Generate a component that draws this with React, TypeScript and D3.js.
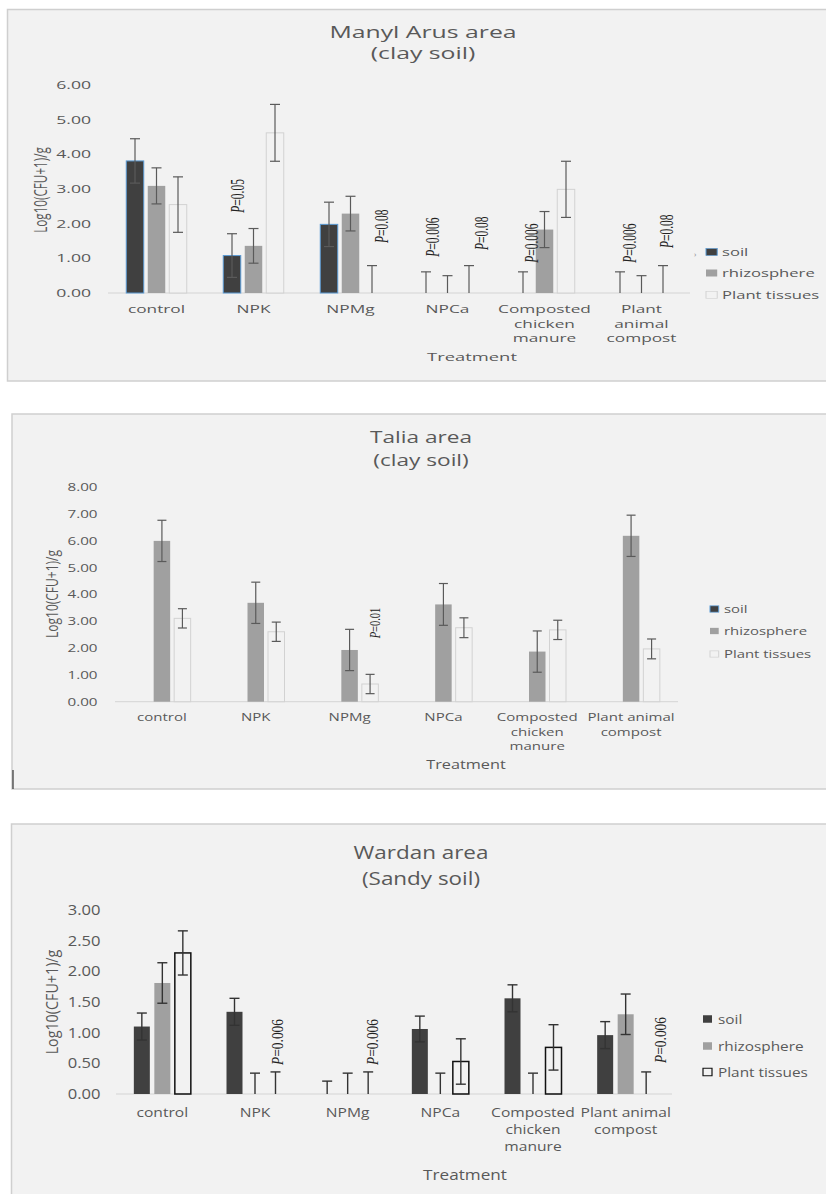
import React from "react";
import * as d3 from "d3";

// ---------- data ----------
const series = ["soil", "rhizosphere", "Plant tissues"];
const categories = ["control", "NPK", "NPMg", "NPCa", "Composted chicken manure", "Plant animal compost"];
const catLabels1 = [["control"], ["NPK"], ["NPMg"], ["NPCa"], ["Composted", "chicken", "manure"], ["Plant", "animal", "compost"]];
const catLabels23 = [["control"], ["NPK"], ["NPMg"], ["NPCa"], ["Composted", "chicken", "manure"], ["Plant animal", "compost"]];

// Panel 1: Manyl Arus area (clay soil)
const soil1 = [3.81, 1.08, 1.98, 0, 0, 0];
const soilErr1 = [0.64, 0.63, 0.64, 0.61, 0.61, 0.61];
const rhizo1 = [3.09, 1.36, 2.29, 0, 1.83, 0];
const rhizoErr1 = [0.52, 0.5, 0.5, 0.5, 0.52, 0.5];
const plant1 = [2.55, 4.62, 0, 0, 2.99, 0];
const plantErr1 = [0.8, 0.82, 0.79, 0.79, 0.81, 0.79];
const ticks1 = [0, 1, 2, 3, 4, 5, 6];
const notes1 = [
  { cat: "NPK", s: "soil", p: "0.05" },
  { cat: "NPMg", s: "Plant tissues", p: "0.08" },
  { cat: "NPCa", s: "soil", p: "0.006" },
  { cat: "NPCa", s: "Plant tissues", p: "0.08" },
  { cat: "Composted chicken manure", s: "soil", p: "0.006" },
  { cat: "Plant animal compost", s: "soil", p: "0.006" },
  { cat: "Plant animal compost", s: "Plant tissues", p: "0.08" },
];

// Panel 2: Talia area (clay soil)
const soil2 = [0, 0, 0, 0, 0, 0];
const soilErr2 = [0, 0, 0, 0, 0, 0];
const rhizo2 = [6.0, 3.69, 1.93, 3.63, 1.87, 6.19];
const rhizoErr2 = [0.77, 0.77, 0.77, 0.78, 0.77, 0.77];
const plant2 = [3.11, 2.61, 0.66, 2.76, 2.68, 1.97];
const plantErr2 = [0.36, 0.36, 0.36, 0.37, 0.36, 0.37];
const ticks2 = [0, 1, 2, 3, 4, 5, 6, 7, 8];
const notes2 = [{ cat: "NPMg", s: "Plant tissues", p: "0.01" }];

// Panel 3: Wardan area (Sandy soil)
const soil3 = [1.1, 1.34, 0, 1.06, 1.56, 0.96];
const soilErr3 = [0.22, 0.22, 0.21, 0.21, 0.22, 0.22];
const rhizo3 = [1.81, 0, 0, 0, 0, 1.3];
const rhizoErr3 = [0.33, 0.34, 0.34, 0.34, 0.34, 0.33];
const plant3 = [2.3, 0, 0, 0.53, 0.76, 0];
const plantErr3 = [0.36, 0.36, 0.36, 0.37, 0.37, 0.36];
const ticks3 = [0, 0.5, 1, 1.5, 2, 2.5, 3];
const notes3 = [
  { cat: "NPK", s: "Plant tissues", p: "0.006" },
  { cat: "NPMg", s: "Plant tissues", p: "0.006" },
  { cat: "Plant animal compost", s: "Plant tissues", p: "0.006" },
];

// ---------- layout ----------
const FONT = "'Open Sans', sans-serif";
const SERIF = "'Liberation Serif', serif";
const TXT = "#595959";

const panels = [
  {
    title: ["Manyl Arus area", "(clay soil)"],
    values: [soil1, rhizo1, plant1], errs: [soilErr1, rhizoErr1, plantErr1],
    ticks: ticks1, labels: catLabels1, notes: notes1,
    noteLayout: [[6, 21], [10, 22.5], [7, 15], [13, 15.5], [9, 9], [10, 9], [4, 17.5]],
    rect: [7.5, 9.5, 381], sx: 1.6,
    x0: 108, x1: 690, y0: 293, yTop: 85, step: 21.5, barW: 17.5, cap: 5,
    tickRight: 91, tickFs: 11, titleFs: 15.5, titleX: 423, titleY: [37.7, 58.5],
    catFs: 10.8, catDy: 20, catLh: 14.5, treatX: 472, treatY: 361, treatFs: 11.5,
    yTitleX: 40, yTitleY: 190, yTitleFs: 11.7,
    legX: 706, legTextX: 722, legY: [252, 273, 295], legFs: 10.4, legSq: 7,
    noteFs: 11.5,
    styles: [
      { fill: "#404040", stroke: "#5b9bd5", sw: 1 },
      { fill: "#a0a0a0", stroke: "none", sw: 0 },
      { fill: "#f2f2f2", stroke: "#d2d2d2", sw: 1 },
    ],
    errColor: "#5a5a5a", errW: 1.2,
  },
  {
    title: ["Talia area", "(clay soil)"],
    values: [soil2, rhizo2, plant2], errs: [soilErr2, rhizoErr2, plantErr2],
    ticks: ticks2, labels: catLabels23, notes: notes2,
    noteLayout: [[5, 36]],
    rect: [12, 414, 789], sx: 1.38,
    x0: 115, x1: 678, y0: 701.7, yTop: 487.3, step: 20.5, barW: 16.5, cap: 4.5,
    tickRight: 97.5, tickFs: 11, titleFs: 16.4, titleX: 421, titleY: [443.3, 465.5],
    catFs: 10.9, catDy: 19.5, catLh: 14.5, treatX: 466, treatY: 769, treatFs: 11.8,
    yTitleX: 52, yTitleY: 594, yTitleFs: 12,
    legX: 710, legTextX: 724, legY: [609, 631, 654], legFs: 10.8, legSq: 6.3,
    noteFs: 10.5,
    styles: [
      { fill: "#404040", stroke: "#5b9bd5", sw: 1 },
      { fill: "#a0a0a0", stroke: "none", sw: 0 },
      { fill: "#f2f2f2", stroke: "#d2d2d2", sw: 1 },
    ],
    errColor: "#5a5a5a", errW: 1.2,
  },
  {
    title: ["Wardan area", "(Sandy soil)"],
    values: [soil3, rhizo3, plant3], errs: [soilErr3, rhizoErr3, plantErr3],
    ticks: ticks3, labels: catLabels23, notes: notes3,
    noteLayout: [[1.5, 7], [4, 7], [14, 9]],
    rect: [11.5, 824, 1200], sx: 1.2,
    x0: 116, x1: 672, y0: 1094, yTop: 910, step: 20.5, barW: 16, cap: 5,
    tickRight: 100.5, tickFs: 13.8, titleFs: 18.7, titleX: 421, titleY: [859.3, 885],
    catFs: 13, catDy: 23, catLh: 17, treatX: 465, treatY: 1180, treatFs: 14.3,
    yTitleX: 52, yTitleY: 1002, yTitleFs: 14.3,
    legX: 703, legTextX: 718, legY: [1019, 1046, 1072], legFs: 12.8, legSq: 7.5,
    noteFs: 13.4,
    styles: [
      { fill: "#404040", stroke: "none", sw: 0 },
      { fill: "#a0a0a0", stroke: "none", sw: 0 },
      { fill: "none", stroke: "#111", sw: 1.5 },
    ],
    errColor: "#333", errW: 1.4,
  },
];

function ST({ x, y, sx, anchor = "start", fs, children, rotate = false, family = FONT, fill = TXT, dy = "0" }: any) {
  const tf = `translate(${x},${y}) scale(${sx},1)${rotate ? " rotate(-90)" : ""}`;
  return (
    <g transform={tf}>
      <text textAnchor={anchor} fontSize={fs} fontFamily={family} fill={fill} dy={dy}>
        {children}
      </text>
    </g>
  );
}

function Panel({ p }: any) {
  const x = d3.scaleBand().domain(categories).range([p.x0, p.x1]).paddingInner(0).paddingOuter(0);
  const xs = d3.scalePoint().domain(series).range([-p.step, p.step]);
  const yMax = p.ticks[p.ticks.length - 1];
  const y = d3.scaleLinear().domain([0, yMax]).range([p.y0, p.yTop]);
  const fmt = d3.format(".2f");
  const cx = (c: string) => (x(c) as number) + x.bandwidth() / 2;
  const [rx, ry, rb] = p.rect;

  return (
    <g>
      <rect x={rx} y={ry} width={830 - rx} height={rb - ry} fill="#f2f2f2" stroke="#cfcfcf" strokeWidth={1.5} />
      {/* title */}
      {p.title.map((t: string, i: number) => (
        <ST key={i} x={p.titleX} y={p.titleY[i]} sx={p.sx} anchor="middle" fs={p.titleFs}>{t}</ST>
      ))}
      {/* y ticks */}
      {p.ticks.map((t: number) => (
        <ST key={t} x={p.tickRight} y={y(t)} sx={p.sx} anchor="end" fs={p.tickFs} dy="0.36em">{fmt(t)}</ST>
      ))}
      {/* y title */}
      <ST x={p.yTitleX} y={p.yTitleY} sx={p.sx} anchor="middle" fs={p.yTitleFs} rotate dy="0.35em">Log10(CFU+1)/g</ST>
      {/* axis line */}
      <line x1={p.x0} x2={p.x1} y1={p.y0} y2={p.y0} stroke="#d4d4d4" strokeWidth={1} />
      {/* bars */}
      {series.map((s, si) =>
        categories.map((c, ci) => {
          const v = p.values[si][ci];
          if (!v) return null;
          const st = p.styles[si];
          const bx = cx(c) + (xs(s) as number) - p.barW / 2;
          return (
            <rect key={s + c} x={bx} y={y(v)} width={p.barW} height={p.y0 - y(v)}
              fill={st.fill} stroke={st.stroke} strokeWidth={st.sw} />
          );
        })
      )}
      {/* error bars */}
      {series.map((s, si) =>
        categories.map((c, ci) => {
          const v = p.values[si][ci];
          const e = p.errs[si][ci];
          if (!e) return null;
          const ex = cx(c) + (xs(s) as number);
          const lo = Math.max(0, v - e);
          const hi = v + e;
          return (
            <g key={"e" + s + c} stroke={p.errColor} strokeWidth={p.errW}>
              <line x1={ex} x2={ex} y1={y(lo)} y2={y(hi)} />
              <line x1={ex - p.cap} x2={ex + p.cap} y1={y(hi)} y2={y(hi)} />
              {v - e > 0 && <line x1={ex - p.cap} x2={ex + p.cap} y1={y(lo)} y2={y(lo)} />}
            </g>
          );
        })
      )}
      {/* P annotations */}
      {p.notes.map((n: any, i: number) => {
        const si = series.indexOf(n.s);
        const ci = categories.indexOf(n.cat);
        const [dx, gap] = p.noteLayout[i];
        const nx = cx(n.cat) + (xs(n.s) as number) + dx;
        const ny = y(p.values[si][ci] + p.errs[si][ci]) - gap;
        return (
          <ST key={"n" + i} x={nx} y={ny} sx={p.sx} fs={p.noteFs} rotate family={SERIF} fill="#222" dy="0.35em">
            <tspan fontStyle="italic">P</tspan>={n.p}
          </ST>
        );
      })}
      {/* category labels */}
      {categories.map((c, ci) =>
        p.labels[ci].map((l: string, li: number) => (
          <ST key={c + li} x={cx(c)} y={p.y0 + p.catDy + li * p.catLh} sx={p.sx} anchor="middle" fs={p.catFs}>{l}</ST>
        ))
      )}
      <ST x={p.treatX} y={p.treatY} sx={p.sx} anchor="middle" fs={p.treatFs}>Treatment</ST>
      {/* legend */}
      {series.map((s, si) => {
        const st = p.styles[si];
        return (
          <g key={"l" + s}>
            <g transform={`translate(${p.legX},${p.legY[si]}) scale(${p.sx},1)`}>
              <rect x={0} y={-p.legSq / 2} width={p.legSq} height={p.legSq}
                fill={st.fill === "none" ? "#f2f2f2" : st.fill}
                stroke={st.stroke === "none" ? "none" : st.stroke} strokeWidth={st.sw ? Math.min(st.sw, 1.2) / p.sx : 0} />
            </g>
            <ST x={p.legTextX} y={p.legY[si]} sx={p.sx} fs={p.legFs} dy="0.36em">{s}</ST>
          </g>
        );
      })}
    </g>
  );
}

export default function App() {
  return (
    <svg width={826} height={1194} style={{ position: "absolute", left: 0, top: 0, background: "#fff" }}>
      <rect x={0} y={0} width={826} height={1194} fill="#ffffff" />
      {panels.map((p, i) => <Panel key={i} p={p} />)}
      <text x={694} y={257} fontSize={8} fill="#888" fontFamily={FONT}>›</text>
      <line x1={13} x2={13} y1={770} y2={789} stroke="#333" strokeWidth={1.2} />
    </svg>
  );
}
